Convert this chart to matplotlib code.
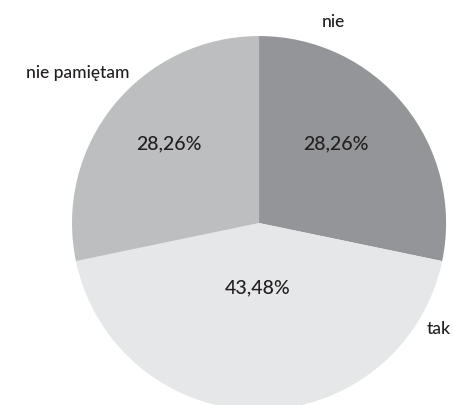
import matplotlib
matplotlib.use('Agg')
import matplotlib.pyplot as plt

# Survey answers (counts out of 46 respondents)
labels = ['nie', 'tak', 'nie pamiętam']
counts = [13, 20, 13]
colors = ['#939598', '#e6e7e8', '#bcbec0']

# Where the category names and the percentages sit, in units of the pie radius
label_pos = [(0.40, 1.08), (0.96, -0.56), (-0.97, 0.81)]
pct_pos = [(0.41, 0.43), (-0.01, -0.34), (-0.48, 0.43)]

plt.rcParams['font.family'] = ['Lato', 'DejaVu Sans']
TEXT = '#231f20'

fig = plt.figure(figsize=(4.53, 4.06), dpi=100)
ax = fig.add_axes([0, 0, 1, 1])

wedges, texts, autotexts = ax.pie(
    counts,
    labels=labels,
    colors=colors,
    startangle=90,
    counterclock=False,
    autopct=lambda p: f'{p:.2f}%'.replace('.', ','),
    wedgeprops={'linewidth': 0},
    textprops={'fontsize': 12.5, 'color': TEXT, 'fontweight': 'medium'},
)

for t, (x, y) in zip(texts, label_pos):
    t.set_position((x, y))
    t.set_horizontalalignment('center')
    t.set_verticalalignment('center')

for t, (x, y) in zip(autotexts, pct_pos):
    t.set_position((x, y))
    t.set_fontsize(14)

# pie runs off the bottom edge of the canvas
ax.set_xlim(-1.385, 1.037)
ax.set_ylim(-0.973, 1.198)
ax.set_aspect('auto')
ax.axis('off')

fig.savefig('out.png', dpi=100, facecolor='white')
